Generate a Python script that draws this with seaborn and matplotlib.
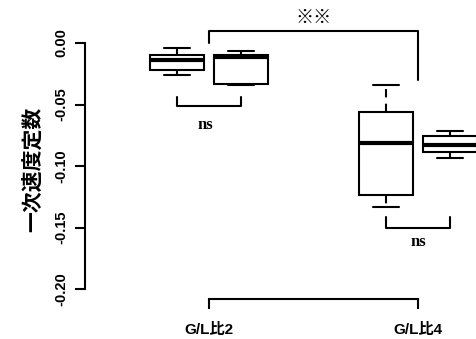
import numpy as np
import pandas as pd
import matplotlib
matplotlib.use("Agg")
import matplotlib.pyplot as plt
import seaborn as sns

# Ratio groups on the x axis and the two conditions measured within each
groups = ["G/L比2", "G/L比4"]
conditions = ["A", "B"]

# Five observations per box: min, lower quartile, median, upper quartile, max
ratio2_a = [-0.0258, -0.0222, -0.0138, -0.0095, -0.0039]
ratio2_b = [-0.0341, -0.0333, -0.0114, -0.0098, -0.0065]
ratio4_a = [-0.1333, -0.1236, -0.0813, -0.0561, -0.0341]
ratio4_b = [-0.0935, -0.0886, -0.0830, -0.0756, -0.0715]

y_ticks = [0.00, -0.05, -0.10, -0.15, -0.20]
y_ticklabels = ["0.00", "-0.05", "-0.10", "-0.15", "-0.20"]
y_label = "一次速度定数"
sig_between = "※※"
sig_within = "ns"

rows = []
for g, c, vals in [(groups[0], conditions[0], ratio2_a),
                   (groups[0], conditions[1], ratio2_b),
                   (groups[1], conditions[0], ratio4_a),
                   (groups[1], conditions[1], ratio4_b)]:
    for v in vals:
        rows.append({"group": g, "condition": c, "k": v})
df = pd.DataFrame(rows)

sns.set_style("ticks")
plt.rcParams["font.family"] = ["Liberation Sans", "Noto Sans CJK JP"]
for key in ["text.color", "axes.labelcolor", "xtick.color", "ytick.color",
            "axes.edgecolor"]:
    plt.rcParams[key] = "black"

W, H = 477, 339
fig = plt.figure(figsize=(W / 100, H / 100), dpi=100)
ax = fig.add_axes([85 / W, 0, (W - 85) / W, 1])

lw = 1.5
dash = (0, (4, 3))
sns.boxplot(
    data=df, x="group", y="k", hue="condition", order=groups,
    hue_order=conditions, palette=["white", "white"], linecolor="black",
    linewidth=lw, width=0.612, gap=0.17, whis=(0, 100), legend=False,
    ax=ax,
    medianprops={"linewidth": 3, "color": "black"},
    whiskerprops={"linestyle": dash, "color": "black"},
    capprops={"color": "black"},
    boxprops={"edgecolor": "black"},
)

px = 209.0  # pixels per category unit
ax.set_xlim(-(209 - 85) / px, 1 + (W - 418) / px)
ax.set_ylim(-(H - 43) / 1230, 43 / 1230)

# Axes styled like base R: detached y axis and a short x axis between groups
for s in ["top", "right"]:
    ax.spines[s].set_visible(False)
ax.spines["left"].set_bounds(-0.20, 0.0)
ax.spines["left"].set_linewidth(lw)
ax.spines["bottom"].set_position(("data", -(299 - 43) / 1230))
ax.spines["bottom"].set_bounds(0, 1)
ax.spines["bottom"].set_linewidth(lw)

ax.set_yticks(y_ticks)
ax.set_yticklabels(y_ticklabels, rotation=90, va="center",
                   fontsize=10.5, fontweight="bold", color="black")
ax.tick_params(axis="y", length=7, width=lw, pad=5, colors="black")
ax.set_xticks([0, 1])
ax.set_xticklabels(groups, fontsize=11, fontweight="bold", color="black")
ax.tick_params(axis="x", length=7, width=lw, pad=10, direction="out",
               colors="black")
ax.set_xlabel("")
ax.set_ylabel(y_label, fontsize=15, fontweight="bold", color="black",
              family=["Noto Sans CJK JP"], labelpad=8)

# Between-group bracket
ax.plot([0, 0, 1, 1], [0.0, 0.00976, 0.00976, -0.030], color="black",
        lw=lw, clip_on=False)
ax.text(0.5, 0.0211, sig_between, ha="center", va="center", fontsize=13,
        fontweight="bold", color="black", family=["Noto Sans CJK JP"])

# Within-group brackets
off = 0.153
ax.plot([-off, -off, off, off], [-0.0439, -0.0512, -0.0512, -0.0439],
        color="black", lw=lw)
ax.text(-0.02, -0.0667, sig_within, ha="center", va="center", color="black",
        fontsize=12, fontweight="bold", family=["Liberation Serif"])
ax.plot([1 - off, 1 - off, 1 + off, 1 + off],
        [-0.1415, -0.1504, -0.1504, -0.1415], color="black", lw=lw)
ax.text(1.0, -0.1618, sig_within, ha="center", va="center", color="black",
        fontsize=12, fontweight="bold", family=["Liberation Serif"])

fig.savefig("out.png", dpi=100)
